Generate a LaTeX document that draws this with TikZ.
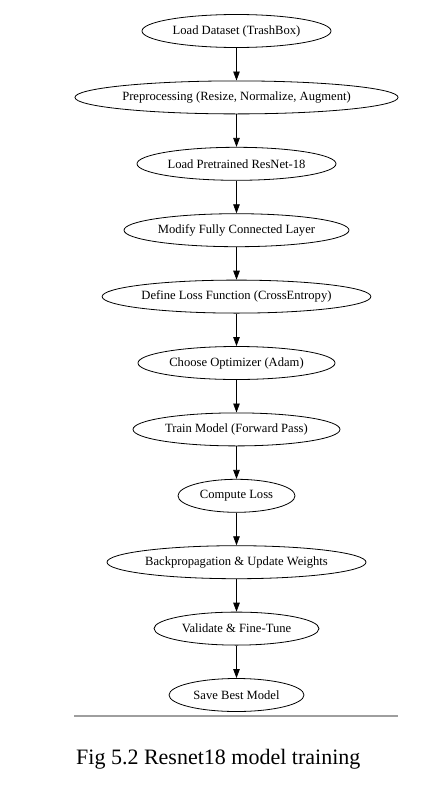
\documentclass[tikz,border=0pt]{standalone}
\usepackage{fontspec}
\setmainfont{Liberation Serif}
\usetikzlibrary{shapes.geometric,arrows.meta}
\tikzset{
  stage/.style={ellipse, draw=black, line width=0.8pt, inner sep=0pt, minimum height=33pt, font=\fontsize{12.6}{14}\selectfont},
  flow/.style={line width=0.8pt, -{Triangle[length=9pt,width=6.5pt]}}
}
\begin{document}
\begin{tikzpicture}[x={(1pt,0)}, y={(0,-1pt)}]
\useasboundingbox (0,0) rectangle (440,790);
\node[stage, minimum width=189pt] (n1) at (236.5,31) {Load Dataset (TrashBox)};
\node[stage, minimum width=319pt] (n2) at (236.5,97.4) {Preprocessing (Resize, Normalize, Augment)};
\node[stage, minimum width=199pt] (n3) at (236.5,163.8) {Load Pretrained ResNet-18};
\node[stage, minimum width=225pt] (n4) at (236.5,230.2) {Modify Fully Connected Layer};
\node[stage, minimum width=266pt] (n5) at (236.5,296.6) {Define Loss Function (CrossEntropy)};
\node[stage, minimum width=197pt] (n6) at (236.5,363) {Choose Optimizer (Adam)};
\node[stage, minimum width=207pt] (n7) at (236.5,429.4) {Train Model (Forward Pass)};
\node[stage, minimum width=117pt] (n8) at (236.5,495.8) {Compute Loss};
\node[stage, minimum width=259pt] (n9) at (236.5,562.2) {Backpropagation \& Update Weights};
\node[stage, minimum width=165pt] (n10) at (236.5,628.6) {Validate \& Fine-Tune};
\node[stage, minimum width=135pt] (n11) at (236.5,695) {Save Best Model};
\foreach \a/\b in {n1/n2,n2/n3,n3/n4,n4/n5,n5/n6,n6/n7,n7/n8,n8/n9,n9/n10,n10/n11}
  \draw[flow] (\a) -- (\b);
\coordinate (rl) at (74,716);
\coordinate (rr) at (398,716);
\draw[color=black!38, line width=1.1pt] (rl) -- (rr);
\node[anchor=base west, inner sep=0pt, font=\fontsize{22}{26}\selectfont] (cap) at (76,764) {Fig 5.2 Resnet18 model training};
\end{tikzpicture}
\end{document}
